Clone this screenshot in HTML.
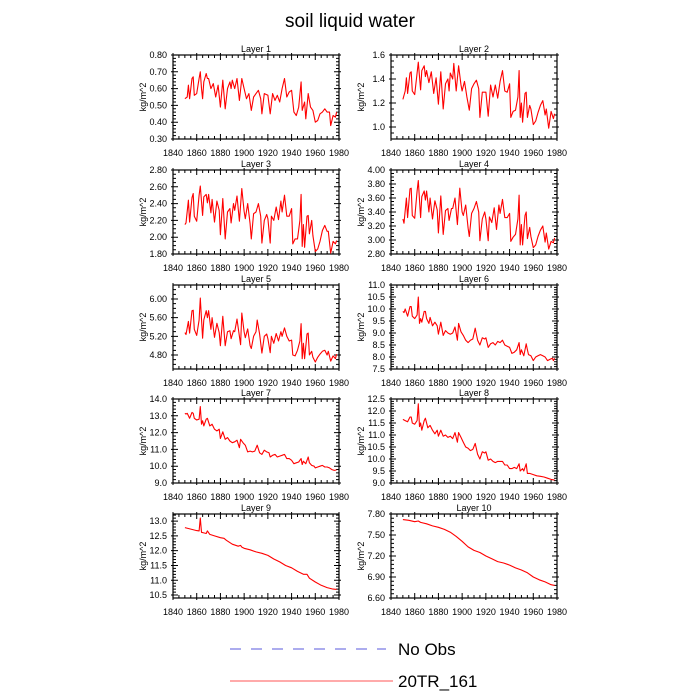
<!DOCTYPE html>
<html><head><meta charset="utf-8"><style>
body{margin:0;background:#fff;}
svg{display:block;font-family:"Liberation Sans",sans-serif;}
</style></head><body>
<svg id="chart" width="700" height="700" viewBox="0 0 700 700">
<text x="350" y="27" text-anchor="middle" font-size="19">soil liquid water</text>
<g id="panels"></g>
<g>
<line x1="230" y1="649" x2="386" y2="649" stroke="#5a5add" stroke-width="1" stroke-dasharray="11,10"/>
<text x="398" y="655" font-size="17">No Obs</text>
<line x1="230" y1="681" x2="393" y2="681" stroke="#ff5555" stroke-width="1"/>
<text x="398" y="687" font-size="17">20TR_161</text>
</g>
</svg>
<script>
const xTicks=[1840,1860,1880,1900,1920,1940,1960,1980];
const yr1=[1850,1852,1853,1854,1856,1857,1858,1860,1862,1863,1864,1865,1866,1868,1869,1870,1872,1874,1876,1878,1880,1882,1884,1886,1888,1889,1890,1892,1894,1896,1898,1900,1902,1904,1906,1908,1910,1912,1914,1915,1917,1920,1922,1924,1926,1928,1930,1932,1934,1936,1938,1940,1942,1944,1946,1948,1949,1951,1952,1954,1956,1958,1960,1962,1964,1966,1968,1970,1972,1973,1975,1977,1978];
const val1=[.54,.55,.62,.54,.66,.67,.56,.57,.66,.70,.60,.54,.64,.69,.66,.66,.60,.63,.55,.62,.49,.65,.48,.60,.64,.60,.65,.60,.66,.53,.66,.60,.54,.57,.47,.55,.57,.59,.54,.45,.57,.56,.45,.57,.53,.56,.52,.60,.66,.55,.58,.59,.46,.44,.49,.64,.47,.52,.42,.57,.49,.47,.40,.41,.45,.46,.48,.46,.46,.38,.44,.43,.46];
const yr2=[1850,1852,1853,1854,1856,1857,1858,1860,1862,1863,1865,1866,1868,1869,1870,1872,1874,1876,1878,1880,1882,1884,1886,1888,1889,1890,1892,1893,1895,1897,1899,1900,1902,1904,1906,1908,1910,1912,1914,1915,1917,1920,1922,1924,1926,1928,1930,1932,1934,1936,1938,1940,1941,1943,1945,1947,1948,1949,1950,1951,1953,1954,1955,1957,1958,1960,1962,1964,1966,1968,1970,1971,1973,1975,1977,1978];
const val2=[1.23,1.30,1.41,1.28,1.45,1.46,1.30,1.27,1.45,1.54,1.31,1.47,1.51,1.42,1.47,1.37,1.46,1.28,1.41,1.19,1.46,1.15,1.36,1.40,1.30,1.45,1.40,1.53,1.30,1.51,1.35,1.30,1.38,1.25,1.14,1.32,1.36,1.39,1.32,1.08,1.29,1.29,1.09,1.35,1.25,1.35,1.24,1.38,1.47,1.30,1.29,1.36,1.08,1.13,1.14,1.25,1.47,1.08,1.20,1.04,1.28,1.29,1.08,1.18,1.15,1.02,1.05,1.12,1.18,1.22,1.10,1.15,0.99,1.13,1.07,1.11];
const yr3=[1850,1851,1853,1854,1856,1857,1858,1860,1862,1863,1865,1866,1868,1869,1870,1872,1873,1875,1877,1879,1880,1882,1884,1886,1888,1889,1891,1892,1894,1896,1898,1900,1901,1903,1905,1906,1908,1910,1912,1914,1915,1917,1919,1920,1922,1923,1925,1927,1929,1931,1932,1934,1936,1938,1940,1941,1943,1945,1947,1948,1949,1950,1951,1953,1954,1955,1957,1958,1960,1962,1964,1966,1968,1970,1971,1973,1975,1977,1978];
const val3=[2.15,2.17,2.44,2.18,2.47,2.52,2.25,2.19,2.50,2.61,2.26,2.48,2.51,2.41,2.51,2.29,2.45,2.18,2.43,2.32,2.03,2.46,1.98,2.30,2.34,2.17,2.40,2.32,2.49,2.19,2.58,2.31,2.22,2.40,2.16,1.98,2.28,2.30,2.40,2.25,1.93,2.20,2.27,2.22,1.93,2.25,2.20,2.36,2.21,2.43,2.30,2.50,2.25,2.25,2.34,1.92,1.98,1.98,2.20,2.51,1.89,2.15,1.88,2.25,2.26,2.04,2.20,2.02,1.83,1.86,1.95,2.08,2.14,2.07,2.07,1.81,1.95,1.92,1.96];
const yr4=yr3;
const val4=[3.30,3.24,3.60,3.32,3.73,3.74,3.35,3.31,3.70,3.85,3.32,3.62,3.70,3.57,3.70,3.40,3.60,3.30,3.56,3.43,3.10,3.63,3.08,3.42,3.45,3.28,3.45,3.45,3.60,3.22,3.74,3.40,3.35,3.50,3.17,3.05,3.38,3.45,3.55,3.40,2.99,3.30,3.40,3.30,2.99,3.33,3.25,3.46,3.15,3.50,3.38,3.58,3.32,3.32,3.38,2.98,3.04,3.08,3.30,3.64,2.93,3.22,2.93,3.35,3.40,3.02,3.18,3.05,2.89,2.93,3.05,3.14,3.20,2.97,3.10,2.87,2.98,2.96,3.03];
const yr5=[1850,1851,1853,1854,1856,1857,1858,1860,1862,1863,1865,1866,1868,1869,1870,1872,1873,1875,1877,1879,1880,1882,1884,1886,1888,1889,1891,1892,1894,1896,1897,1898,1900,1901,1903,1905,1906,1908,1910,1911,1913,1915,1917,1919,1920,1922,1923,1925,1927,1929,1931,1932,1934,1936,1938,1940,1941,1943,1945,1947,1948,1949,1950,1951,1953,1954,1955,1957,1958,1960,1962,1964,1966,1968,1970,1971,1973,1975,1977,1978];
const val5=[5.28,5.24,5.52,5.27,5.75,5.76,5.35,5.22,5.55,6.02,5.16,5.55,5.75,5.60,5.75,5.35,5.60,5.18,5.48,5.28,5.00,5.63,5.00,5.30,5.32,5.15,5.32,5.30,5.57,5.20,5.02,5.70,5.30,5.17,5.36,5.00,4.94,5.20,5.30,5.55,5.25,4.84,5.20,5.25,5.15,4.85,5.20,5.05,5.26,5.10,5.30,5.20,5.38,5.20,5.10,5.12,4.80,4.78,4.90,5.10,5.47,4.72,5.05,4.72,5.25,5.27,4.80,4.88,4.75,4.65,4.75,4.82,4.88,4.90,4.80,4.88,4.67,4.78,4.72,4.82];
const yr6=[1850,1851,1852,1854,1856,1857,1858,1860,1862,1863,1864,1865,1866,1868,1869,1870,1872,1873,1875,1877,1879,1880,1882,1884,1886,1888,1890,1892,1894,1896,1897,1899,1901,1903,1905,1907,1909,1911,1913,1915,1917,1919,1920,1922,1924,1926,1928,1930,1932,1934,1936,1938,1940,1942,1944,1946,1948,1949,1950,1952,1954,1955,1956,1958,1960,1962,1964,1966,1968,1970,1972,1974,1976,1977,1978];
const val6=[9.9,9.85,10.0,9.7,10.1,10.1,9.7,9.6,9.75,10.5,9.4,9.6,9.45,9.9,9.9,9.6,9.4,9.65,9.3,9.45,9.3,8.95,9.45,8.9,9.1,9.0,8.95,9.0,9.25,8.7,9.4,9.05,8.9,8.7,8.6,8.7,8.75,9.2,8.7,8.5,8.8,8.75,8.8,8.4,8.55,8.6,8.5,8.65,8.6,8.7,8.5,8.45,8.4,8.15,8.2,8.3,8.6,8.1,8.3,8.05,8.55,8.3,8.1,8.05,7.85,8.0,8.05,8.1,8.05,8.0,7.85,7.9,7.95,7.85,7.95];
const yr7=[1850,1851,1852,1854,1856,1857,1858,1860,1862,1863,1864,1865,1866,1868,1869,1871,1873,1875,1877,1879,1880,1882,1884,1886,1888,1890,1892,1894,1896,1897,1899,1901,1903,1905,1907,1909,1911,1913,1915,1917,1919,1921,1922,1924,1926,1928,1930,1932,1934,1936,1938,1940,1942,1944,1946,1948,1949,1950,1952,1954,1955,1957,1959,1960,1962,1964,1966,1968,1970,1972,1974,1976,1978];
const val7=[13.15,13.1,13.15,12.85,13.2,13.15,12.85,12.75,12.8,13.55,12.5,12.7,12.4,12.8,12.85,12.4,12.5,12.2,12.1,12.2,11.65,12.05,11.6,11.7,11.5,11.4,11.45,11.55,11.1,11.6,11.4,11.25,10.85,10.9,10.85,10.9,11.25,10.8,10.7,10.95,10.85,10.8,10.55,10.65,10.7,10.55,10.6,10.65,10.7,10.45,10.45,10.35,10.15,10.2,10.25,10.45,10.1,10.3,10.15,10.55,10.2,10.05,10.0,9.9,9.95,10.0,10.05,9.95,9.95,9.9,9.8,9.75,9.78];
const yr8=[1850,1852,1854,1856,1857,1858,1860,1862,1863,1864,1865,1866,1868,1869,1871,1873,1875,1877,1879,1880,1882,1884,1886,1888,1890,1892,1894,1896,1897,1899,1901,1903,1905,1907,1909,1911,1913,1915,1917,1919,1920,1922,1924,1926,1928,1930,1932,1934,1936,1938,1940,1942,1944,1946,1948,1949,1951,1952,1954,1955,1957,1960,1963,1966,1969,1972,1975,1978];
const val8=[11.65,11.6,11.55,11.75,11.75,11.5,11.45,11.6,12.3,11.35,11.5,11.2,11.6,11.7,11.3,11.4,11.2,11.05,11.2,10.95,11.2,10.95,11.0,10.9,10.95,10.85,11.1,10.7,11.1,10.9,10.7,10.5,10.45,10.35,10.4,10.65,10.2,10.0,10.3,10.25,10.3,9.95,10.0,9.9,9.85,9.9,9.9,9.9,9.75,9.75,9.6,9.6,9.65,9.6,9.8,9.5,9.6,9.5,9.8,9.4,9.4,9.35,9.3,9.28,9.25,9.2,9.15,9.12];
const yr9=[1850,1855,1860,1862,1863,1864,1866,1868,1869,1871,1875,1880,1883,1885,1890,1895,1897,1898,1900,1905,1910,1915,1920,1925,1930,1935,1940,1945,1950,1953,1955,1960,1965,1970,1975,1978];
const val9=[12.78,12.73,12.68,12.67,13.1,12.62,12.6,12.58,12.67,12.55,12.5,12.44,12.42,12.35,12.22,12.15,12.18,12.12,12.08,12.03,11.96,11.91,11.84,11.72,11.62,11.5,11.42,11.3,11.2,11.2,11.07,10.94,10.83,10.75,10.7,10.69];
const yr10=[1850,1855,1860,1863,1865,1870,1875,1880,1885,1890,1895,1900,1905,1910,1915,1920,1925,1930,1935,1940,1945,1950,1955,1960,1965,1970,1975,1978];
const val10=[7.72,7.71,7.69,7.70,7.68,7.66,7.63,7.61,7.58,7.54,7.48,7.41,7.33,7.28,7.25,7.20,7.16,7.12,7.10,7.07,7.03,7.00,6.96,6.90,6.86,6.83,6.79,6.78];
const yMin=[0.30,0.90,1.80,2.80,4.50,7.5,9.0,9.0,10.4,6.60];
const yMax=[0.80,1.60,2.80,4.00,6.30,11.0,14.0,12.5,13.24,7.80];
const yTickLabels=[
 ["0.30","0.40","0.50","0.60","0.70","0.80"],
 ["1.0","1.2","1.4","1.6"],
 ["1.80","2.00","2.20","2.40","2.60","2.80"],
 ["2.80","3.00","3.20","3.40","3.60","3.80","4.00"],
 ["4.80","5.20","5.60","6.00"],
 ["7.5","8.0","8.5","9.0","9.5","10.0","10.5","11.0"],
 ["9.0","10.0","11.0","12.0","13.0","14.0"],
 ["9.0","9.5","10.0","10.5","11.0","11.5","12.0","12.5"],
 ["10.5","11.0","11.5","12.0","12.5","13.0"],
 ["6.60","6.90","7.20","7.50","7.80"]];
const yMinor=[0.02,0.05,0.05,0.05,0.1,0.1,0.2,0.1,0.1,0.06];
const years=[yr1,yr2,yr3,yr4,yr5,yr6,yr7,yr8,yr9,yr10];
const vals=[val1,val2,val3,val4,val5,val6,val7,val8,val9,val10];

const NS="http://www.w3.org/2000/svg";
const colX=[173,391], rowY=[55,170,285,399,514], W=166, H=84;
const root=document.getElementById('panels');
function mk(tag,attrs,parent){const e=document.createElementNS(NS,tag);for(const k in attrs)e.setAttribute(k,attrs[k]);parent.appendChild(e);return e;}
for(let i=0;i<10;i++){
  const x0=colX[i%2], y0=rowY[Math.floor(i/2)];
  const g=mk('g',{},root);
  
  
  const sx=v=>x0+(v-1840)/140*W;
  const sy=v=>y0+H-(v-yMin[i])/(yMax[i]-yMin[i])*H;
  const t=mk('text',{x:x0+W/2,y:y0-3,'text-anchor':'middle','font-size':'9'},g);
  t.textContent='Layer '+(i+1);
  
  
  const yt=mk('text',{x:0,y:0,'text-anchor':'middle','font-size':'9',transform:`translate(${x0-27},${y0+H/2}) rotate(-90)`},g);
  yt.textContent='kg/m^2';
  
  
  let d='';
  for(let y=1840;y<=1980;y+=5){const px=sx(y);const L=(y%20===0)?5:3;
    d+=`M${px},${y0+H}v${-L}M${px},${y0}v${L}`;
    if(y%20===0)d+=`M${px},${y0+H}v2M${px},${y0}v-2`;}
  for(const v of xTicks){const tx=mk('text',{x:sx(v),y:y0+H+17,'text-anchor':'middle','font-size':'9'},g);tx.textContent=v;
    
    }
  const mn=yMinor[i];
  for(let k=Math.ceil(yMin[i]/mn-1e-6);k*mn<=yMax[i]+1e-9;k++){const py=sy(k*mn);d+=`M${x0},${py}h3M${x0+W},${py}h-3`;}
  for(const lab of yTickLabels[i]){const v=parseFloat(lab);const py=sy(v);
    d+=`M${x0-2},${py}h7M${x0+W+2},${py}h-7`;
    const ty=mk('text',{x:x0-6,y:py+3,'text-anchor':'end','font-size':'9'},g);ty.textContent=lab;
    
    }
  const tk=mk('path',{d:d,stroke:'#000','stroke-width':'1',fill:'none'},g);
  
  
  const fr=mk('rect',{x:x0,y:y0,width:W,height:H,fill:'none',stroke:'#000','stroke-width':'1.2'},g);
  
  
  const pts=years[i].map((y,j)=>sx(y).toFixed(1)+','+sy(vals[i][j]).toFixed(1)).join(' ');
  const ln=mk('polyline',{points:pts,fill:'none',stroke:'#ff0000','stroke-width':'1.1','stroke-linejoin':'round'},g);
  
  
}
</script>
</body></html>
